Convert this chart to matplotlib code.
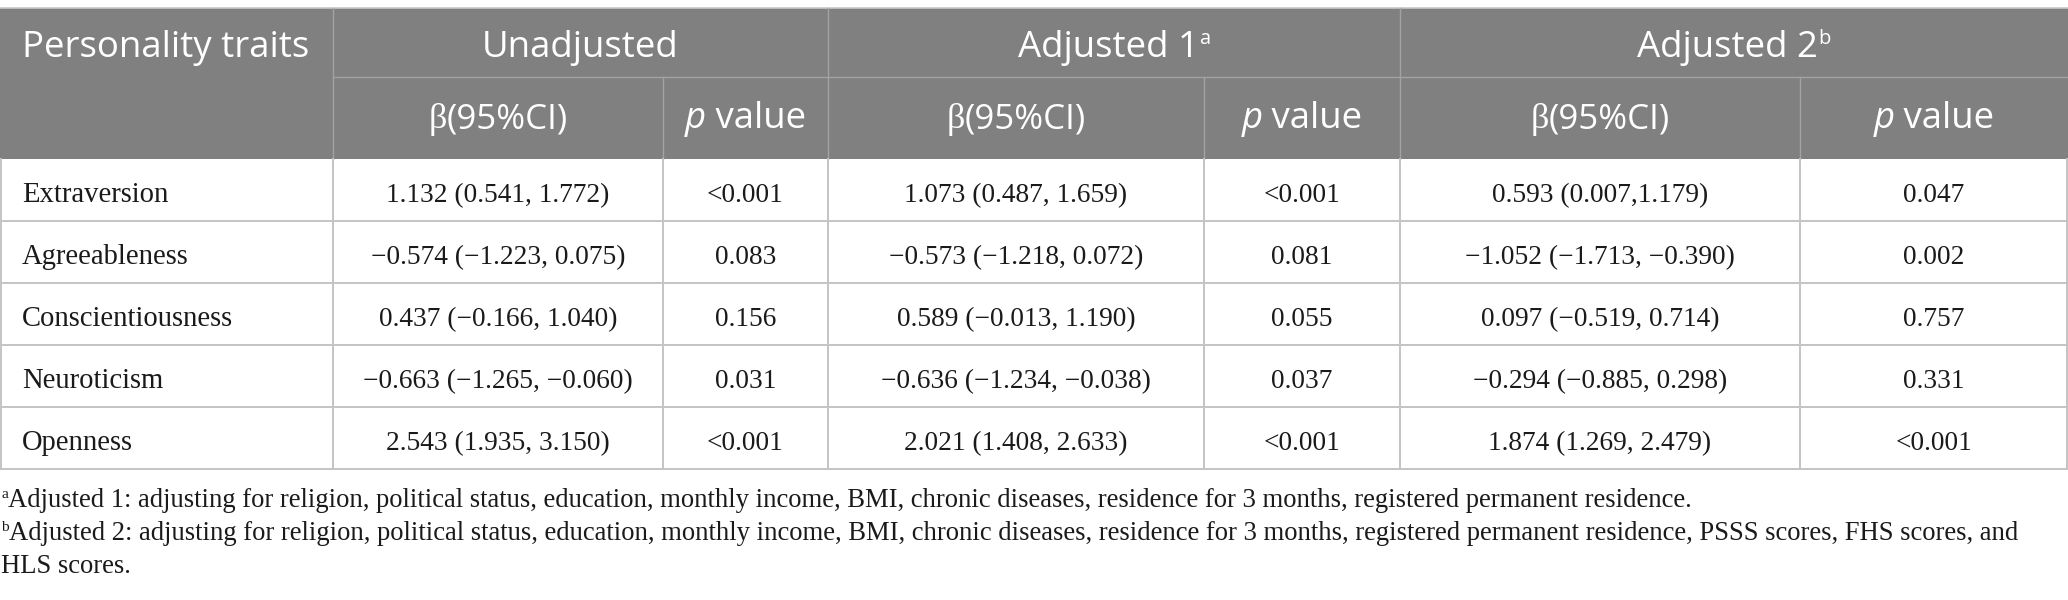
import matplotlib
matplotlib.use("Agg")
import matplotlib.pyplot as plt
from matplotlib.patches import Rectangle

# ---------------- data ----------------
traits = ["Extraversion", "Agreeableness", "Conscientiousness", "Neuroticism", "Openness"]
unadj_beta = ["1.132 (0.541, 1.772)", "−0.574 (−1.223, 0.075)", "0.437 (−0.166, 1.040)",
              "−0.663 (−1.265, −0.060)", "2.543 (1.935, 3.150)"]
unadj_p = ["<0.001", "0.083", "0.156", "0.031", "<0.001"]
adj1_beta = ["1.073 (0.487, 1.659)", "−0.573 (−1.218, 0.072)", "0.589 (−0.013, 1.190)",
             "−0.636 (−1.234, −0.038)", "2.021 (1.408, 2.633)"]
adj1_p = ["<0.001", "0.081", "0.055", "0.037", "<0.001"]
adj2_beta = ["0.593 (0.007,1.179)", "−1.052 (−1.713, −0.390)", "0.097 (−0.519, 0.714)",
             "−0.294 (−0.885, 0.298)", "1.874 (1.269, 2.479)"]
adj2_p = ["0.047", "0.002", "0.757", "0.331", "<0.001"]

first_header = "Personality traits"
group_headers = [("Unadjusted", ""), ("Adjusted 1", "a"), ("Adjusted 2", "b")]
beta_label = ("β", "(95%CI)")
p_label = ("p", " value")

footnotes = [
    ("a", "Adjusted 1: adjusting for religion, political status, education, monthly income, BMI, chronic diseases, residence for 3 months, registered permanent residence."),
    ("b", "Adjusted 2: adjusting for religion, political status, education, monthly income, BMI, chronic diseases, residence for 3 months, registered permanent residence, PSSS scores, FHS scores, and"),
    ("", "HLS scores."),
]

# ---------------- layout (pixels) ----------------
W, H = 2068, 600
col_edges = [0, 333, 663, 828, 1204, 1400, 1800, 2068]
y_top, y_mid, y_head = 8, 77, 159
row_h = 62
n_rows = len(traits)
row_edges = [y_head + i * row_h for i in range(n_rows + 1)]
foot_base = [507, 540, 573]

HEAD_BG = "#808080"
HEAD_LINE = "#a3a3a3"
BODY_LINE = "#c4c4c4"
TEXT = "#1a1a1a"
SANS = "Open Sans"
SERIF = "Liberation Serif"

fig = plt.figure(figsize=(W / 100, H / 100), dpi=100)
ax = fig.add_axes([0, 0, 1, 1])
ax.set_xlim(0, W)
ax.set_ylim(H, 0)
ax.axis("off")
renderer = fig.canvas.get_renderer()


def width_of(s, size, **kw):
    t = ax.text(0, 0, s, fontsize=size, **kw)
    w = t.get_window_extent(renderer).width
    t.remove()
    return w


def fit(s, target, **kw):
    return 20 * target / width_of(s, 20, **kw)


head_fs = fit(first_header, 287, family=SANS)
trait_fs = fit("Conscientiousness", 211, family=SERIF)
num_fs = fit("1.132 (0.541, 1.772)", 224, family=SERIF)
foot_fs = fit(footnotes[1][1], 2012, family=SERIF)

# ---------------- header background ----------------
ax.add_patch(Rectangle((0, y_top), W, y_head - y_top, facecolor=HEAD_BG, edgecolor="none", zorder=0))
ax.plot([0, W], [y_top, y_top], color="#c8c8c8", lw=1.2, zorder=2)
ax.plot([col_edges[1], W], [y_mid, y_mid], color=HEAD_LINE, lw=1.0, zorder=2)
for x in [col_edges[1], col_edges[3], col_edges[5]]:
    ax.plot([x, x], [y_top, y_head], color=HEAD_LINE, lw=1.0, zorder=2)
for x in [col_edges[2], col_edges[4], col_edges[6]]:
    ax.plot([x, x], [y_mid, y_head], color=HEAD_LINE, lw=1.0, zorder=2)

# ---------------- body grid ----------------
for y in row_edges[1:]:
    ax.plot([0, W], [y, y], color=BODY_LINE, lw=1.4, zorder=2)
for x in col_edges:
    xx = min(max(x, 0.7), W - 0.7)
    ax.plot([xx, xx], [y_head, row_edges[-1]], color=BODY_LINE, lw=1.4, zorder=2)


def compound(xc, yb, parts):
    """parts: list of (text, fontsize, kwargs, dy); centred at xc, baseline yb"""
    widths = [width_of(s, fs, **kw) for s, fs, kw, dy in parts]
    x = xc - sum(widths) / 2
    for (s, fs, kw, dy), w in zip(parts, widths):
        ax.text(x, yb + dy, s, fontsize=fs, ha="left", va="baseline", **kw)
        x += w


# ---------------- header text ----------------
hk = dict(family=SANS, color="white")
base1 = 57
base2 = 128
ax.text(22, base1, first_header, fontsize=head_fs, ha="left", va="baseline", **hk)
for g, (name, sup) in enumerate(group_headers):
    x0, x1 = col_edges[1 + 2 * g], col_edges[3 + 2 * g]
    parts = [(name, head_fs, hk, 0)]
    if sup:
        parts.append((sup, head_fs * 0.55, hk, -13))
    compound((x0 + x1) / 2, base1, parts)
    bx = (col_edges[1 + 2 * g] + col_edges[2 + 2 * g]) / 2
    compound(bx, base2, [(beta_label[0], head_fs * 0.98, dict(family=SERIF, color="white"), 0),
                         (beta_label[1], head_fs * 0.95, hk, 0)])
    px = (col_edges[2 + 2 * g] + col_edges[3 + 2 * g]) / 2
    compound(px, base2, [(p_label[0], head_fs, dict(family=SANS, color="white", style="italic"), 0),
                         (p_label[1], head_fs, hk, 0)])

# ---------------- body text ----------------
columns = [unadj_beta, unadj_p, adj1_beta, adj1_p, adj2_beta, adj2_p]
for i in range(n_rows):
    yb = row_edges[i] + 43
    ax.text(22, yb, traits[i], fontsize=trait_fs, family=SERIF, color=TEXT,
            ha="left", va="baseline")
    for j, col in enumerate(columns):
        xc = (col_edges[1 + j] + col_edges[2 + j]) / 2
        ax.text(xc, yb, col[i], fontsize=num_fs, family=SERIF, color=TEXT,
                ha="center", va="baseline")

# ---------------- footnotes ----------------
for (sup, txt), yb in zip(footnotes, foot_base):
    x = 1
    if sup:
        ax.text(x, yb - 9, sup, fontsize=foot_fs * 0.58, family=SERIF, color=TEXT,
                ha="left", va="baseline")
        x += width_of(sup, foot_fs * 0.58, family=SERIF)
    ax.text(x, yb, txt, fontsize=foot_fs, family=SERIF, color=TEXT,
            ha="left", va="baseline")

fig.savefig("out.png", dpi=100, facecolor="white")
